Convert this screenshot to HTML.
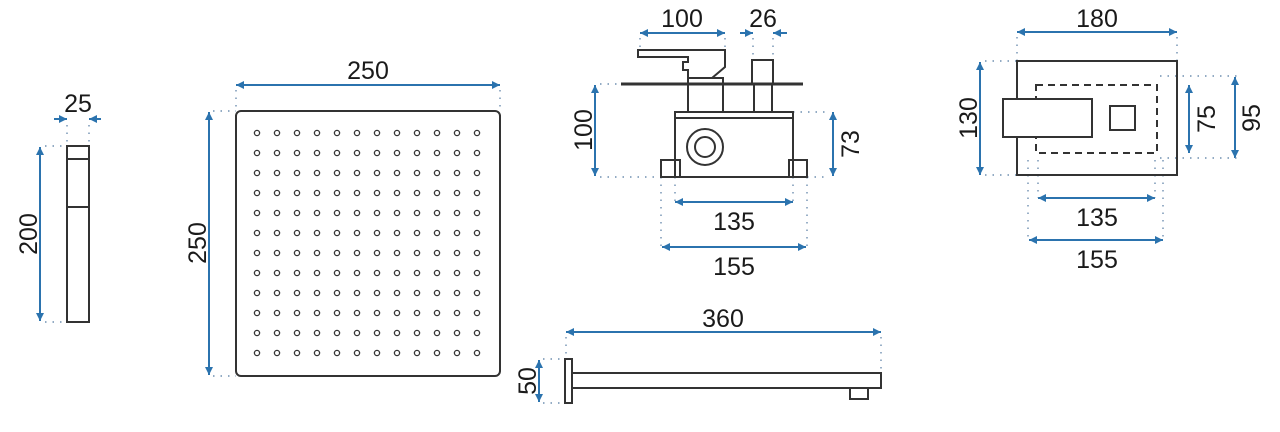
<!DOCTYPE html>
<html><head><meta charset="utf-8"><style>
html,body{margin:0;padding:0;background:#fff;width:1280px;height:432px;overflow:hidden}
text{font-family:"Liberation Sans",sans-serif;font-size:25px;fill:#1a1a1a}
</style></head><body>
<svg width="1280" height="432" viewBox="0 0 1280 432" xmlns="http://www.w3.org/2000/svg">
<defs>
<marker id="a" viewBox="0 0 10 10" refX="10" refY="5" markerWidth="10" markerHeight="8" orient="auto-start-reverse" markerUnits="userSpaceOnUse"><path d="M0,0L10,5L0,10z" fill="#2b73ae"/></marker>
<pattern id="dots" width="20" height="20" patternUnits="userSpaceOnUse" x="247" y="123"><circle cx="10" cy="10" r="2.6" fill="none" stroke="#333" stroke-width="1.3"/></pattern>
</defs>
<g stroke="#2b73ae" stroke-width="2" fill="none" marker-start="url(#a)" marker-end="url(#a)">
<line x1="54" y1="119" x2="67" y2="119" marker-start="none"/>
<line x1="101" y1="119" x2="89" y2="119" marker-start="none"/>
<line x1="40" y1="147" x2="40" y2="321"/>
<line x1="236" y1="85" x2="500" y2="85"/>
<line x1="209" y1="112" x2="209" y2="375"/>
<line x1="640" y1="33" x2="725" y2="33"/>
<line x1="740" y1="33" x2="753" y2="33" marker-start="none"/>
<line x1="787" y1="33" x2="773" y2="33" marker-start="none"/>
<line x1="595" y1="85" x2="595" y2="176"/>
<line x1="833" y1="112" x2="833" y2="176"/>
<line x1="675" y1="202" x2="793" y2="202"/>
<line x1="662" y1="247" x2="806" y2="247"/>
<line x1="1017" y1="32" x2="1177" y2="32"/>
<line x1="980" y1="62" x2="980" y2="175"/>
<line x1="1189" y1="85" x2="1189" y2="153"/>
<line x1="1235" y1="77" x2="1235" y2="158"/>
<line x1="1038" y1="198" x2="1155" y2="198"/>
<line x1="1029" y1="240" x2="1163" y2="240"/>
<line x1="566" y1="332" x2="881" y2="332"/>
<line x1="539" y1="360" x2="539" y2="402"/>
</g>
<g stroke="#6f8fb0" stroke-width="1.4" stroke-dasharray="1.5 6" fill="none">
<path d="M67,125V146M89,125V146M45,146H67M45,322H67"/>
<path d="M236,90V111M500,90V111M213,111H236M213,376H236"/>
<path d="M640,38V50M725,38V50M753,38V60M773,38V60M600,84H621M600,177H661M807,177H828M793,112H828M661,177V247M807,177V247M675,177V202M793,177V202"/>
<path d="M1017,37V61M1177,37V61M985,61H1017M985,175H1017M1160,76H1240M1160,158H1240M1028,160V240M1163,160V240M1038,160V198M1155,160V198"/>
<path d="M566,337V359M881,337V372M543,359H565M543,403H565"/>
</g>
<g stroke="#333" stroke-width="2" fill="none">
<rect x="67" y="146" width="22" height="176"/>
<line x1="67" y1="159" x2="89" y2="159"/><line x1="67" y1="207" x2="89" y2="207"/>
<rect x="236" y="111" width="264" height="265" rx="5"/>
<path d="M638,50H725V67L712,78H688V70H683V62H688V57H638Z"/>
<line x1="621" y1="84" x2="803" y2="84" stroke-width="3"/>
<rect x="688" y="78" width="35" height="34"/>
<rect x="752" y="60" width="21" height="24"/>
<rect x="754" y="84" width="18" height="28"/>
<rect x="675" y="112" width="118" height="65"/>
<line x1="675" y1="118" x2="793" y2="118"/>
<rect x="661" y="160" width="19" height="17"/>
<rect x="789" y="160" width="18" height="17"/>
<circle cx="705" cy="147" r="18"/><circle cx="705" cy="147" r="10"/>
<rect x="1017" y="61" width="160" height="114"/>
<rect x="1036" y="85" width="121" height="68" stroke-dasharray="7 5"/>
<rect x="1003" y="99" width="89" height="38" fill="#fff"/>
<rect x="1110" y="106" width="25" height="24"/>
<rect x="565" y="359" width="7" height="44"/>
<rect x="572" y="373" width="309" height="15"/>
<rect x="850" y="388" width="18" height="11"/>
</g>
<rect x="247" y="123" width="240" height="240" fill="url(#dots)"/>
<text x="78" y="112" text-anchor="middle">25</text>
<text x="368" y="79" text-anchor="middle">250</text>
<text x="682" y="27" text-anchor="middle">100</text>
<text x="763" y="27" text-anchor="middle">26</text>
<text x="734" y="230" text-anchor="middle">135</text>
<text x="734" y="275" text-anchor="middle">155</text>
<text x="1097" y="27" text-anchor="middle">180</text>
<text x="1097" y="226" text-anchor="middle">135</text>
<text x="1097" y="268" text-anchor="middle">155</text>
<text x="723" y="327" text-anchor="middle">360</text>
<text transform="translate(37,234) rotate(-90)" text-anchor="middle">200</text>
<text transform="translate(206,243) rotate(-90)" text-anchor="middle">250</text>
<text transform="translate(592,130) rotate(-90)" text-anchor="middle">100</text>
<text transform="translate(859,144) rotate(-90)" text-anchor="middle">73</text>
<text transform="translate(977,118) rotate(-90)" text-anchor="middle">130</text>
<text transform="translate(1215,119) rotate(-90)" text-anchor="middle">75</text>
<text transform="translate(1260,118) rotate(-90)" text-anchor="middle">95</text>
<text transform="translate(536,381) rotate(-90)" text-anchor="middle">50</text>
</svg>
</body></html>
